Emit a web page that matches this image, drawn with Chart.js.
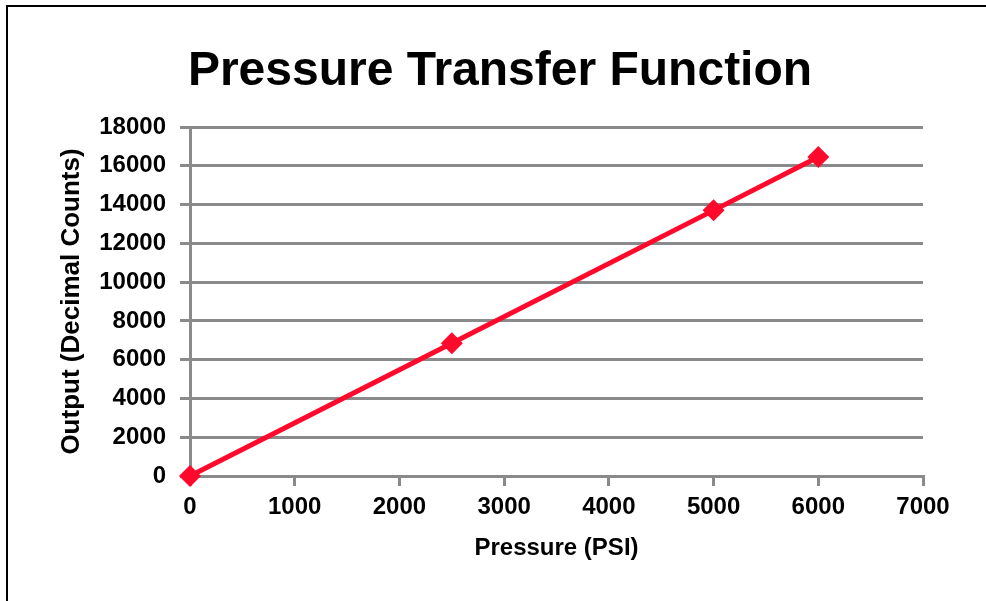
<!DOCTYPE html>
<html>
<head>
<meta charset="utf-8">
<script src="https://cdn.jsdelivr.net/npm/chart.js@4.4.1/dist/chart.umd.min.js"></script>
<style>
  html, body { margin: 0; padding: 0; background: #fff; }
  #wrap { width: 986px; height: 601px; position: relative; }
</style>
</head>
<body>
<div id="wrap"><canvas id="c" width="986" height="601"></canvas></div>
<script>
// 読み取った値（圧力 PSI → 出力カウント）
const pressure = [0, 2500, 5000, 6000];
const output = [0, 6850, 13700, 16450];

const titleText = 'Pressure Transfer Function';
const xTitle = 'Pressure (PSI)';
const yTitle = 'Output (Decimal Counts)';

const FONT = '"Liberation Sans", Arial, sans-serif';
const GRID = '#8a8a8a';
const RED = '#ff0a2d';

// 左と上だけの枠線、タイトルはキャンバス全体の中央に置く
const framePlugin = {
  id: 'frame',
  beforeDraw(chart) {
    const ctx = chart.ctx;
    ctx.save();
    ctx.fillStyle = '#fff';
    ctx.fillRect(0, 0, chart.width, chart.height);
    ctx.strokeStyle = '#000';
    ctx.lineWidth = 2;
    ctx.beginPath();
    ctx.moveTo(7, chart.height);
    ctx.lineTo(7, 6);
    ctx.lineTo(chart.width, 6);
    ctx.stroke();
    ctx.fillStyle = '#000';
    ctx.font = 'bold 48px ' + FONT;
    ctx.textAlign = 'center';
    ctx.textBaseline = 'alphabetic';
    ctx.fillText(titleText, 500, 85);
    ctx.restore();
  },
};

new Chart(document.getElementById('c'), {
  type: 'scatter',
  data: {
    datasets: [{
      data: pressure.map((p, i) => ({ x: p, y: output[i] })),
      showLine: true,
      clip: false,
      borderColor: RED,
      backgroundColor: RED,
      borderWidth: 5,
      pointStyle: 'rectRot',
      pointRadius: 11,
      pointBorderWidth: 0,
    }],
  },
  options: {
    responsive: false,
    animation: false,
    layout: { padding: { left: 0, right: 63, top: 127, bottom: 0 } },
    plugins: {
      legend: { display: false },
      tooltip: { enabled: false },
      title: { display: false },
    },
    scales: {
      x: {
        type: 'linear',
        min: 0,
        max: 7000,
        ticks: {
          stepSize: 1000,
          color: '#000',
          font: { family: FONT, size: 24, weight: 'bold' },
          padding: 7,
          maxRotation: 0,
          callback: (v) => String(v),
        },
        grid: { drawOnChartArea: false, drawTicks: true, tickLength: 10, color: GRID, lineWidth: 3 },
        border: { color: GRID, width: 3 },
        title: {
          display: true,
          text: xTitle,
          color: '#000',
          font: { family: FONT, size: 24, weight: 'bold' },
          padding: { top: 0, bottom: 38 },
        },
        afterFit(scale) { scale.height = 601 - 476; },
      },
      y: {
        min: 0,
        max: 18000,
        ticks: {
          stepSize: 2000,
          color: '#000',
          font: { family: FONT, size: 24, weight: 'bold' },
          padding: 14,
          callback: (v) => String(v),
        },
        grid: { color: GRID, lineWidth: 3, tickLength: 10 },
        border: { color: GRID, width: 3 },
        title: {
          display: true,
          text: yTitle,
          color: '#000',
          font: { family: FONT, size: 26, weight: 'bold' },
          padding: { top: 56, bottom: 0 },
        },
        afterFit(scale) { scale.width = 190; },
      },
    },
  },
  plugins: [framePlugin],
});
</script>
</body>
</html>
